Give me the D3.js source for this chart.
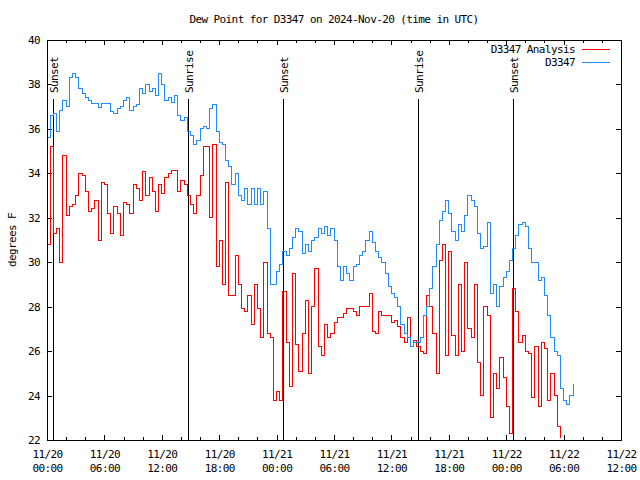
<!DOCTYPE html>
<html>
<head>
<meta charset="utf-8">
<script src="https://cdn.jsdelivr.net/npm/d3@7"></script>
<style>
  html, body { margin: 0; padding: 0; background: #fff; }
  svg { display: block; }
  text { font-family: "DejaVu Sans Mono", "Liberation Mono", monospace; font-size: 11px; letter-spacing: -0.6px; fill: #000; }
</style>
</head>
<body>
<svg id="chart" width="640" height="480"></svg>
<script>
// ---------------- DATA ----------------
const titleText = "Dew Point for D3347 on 2024-Nov-20 (time in UTC)";
const yLabel = "degrees F";
const seriesNames = ["D3347 Analysis", "D3347"];
const seriesColors = ["#ff0000", "#1e8cff"];
const startTime = "2024-11-20T00:00:00Z";
const endTime = "2024-11-22T12:00:00Z";
const stepMinutes = 20;
const yTicks = [22, 24, 26, 28, 30, 32, 34, 36, 38, 40];
const xTickDays = ["11/20","11/20","11/20","11/20","11/21","11/21","11/21","11/21","11/22","11/22","11/22"];
const xTickTimes = ["00:00","06:00","12:00","18:00","00:00","06:00","12:00","18:00","00:00","06:00","12:00"];
const sunTimes = ["2024-11-20T00:40:00Z","2024-11-20T14:46:00Z","2024-11-21T00:42:00Z","2024-11-21T14:49:00Z","2024-11-22T00:44:00Z"];
const sunLabels = ["Sunset","Sunrise","Sunset","Sunrise","Sunset"];

// D3347 Analysis (red), one value every 20 minutes from 11/20 00:00 UTC
const analysisValues = [
 30.8,35.2,31.3,31.5,30.0,34.8,32.1,32.5,32.6,33.0,
 34.0,33.9,33.2,32.3,32.4,32.8,31.0,33.6,33.5,32.2,
 31.3,32.5,32.2,31.2,32.7,32.6,32.2,33.5,33.3,32.8,
 34.1,33.0,33.8,33.2,32.3,33.5,33.1,33.8,34.0,34.15,
 34.15,33.2,33.7,33.5,33.0,32.6,32.2,33.0,33.9,35.2,
 35.2,32.0,35.3,29.8,31.0,29.0,33.6,28.5,28.5,30.3,
 29.0,27.9,27.8,28.5,27.2,29.0,27.9,26.6,30.0,26.8,
 26.6,23.8,24.2,23.8,28.7,26.4,24.4,29.5,26.3,25.1,
 26.8,28.3,25.0,28.0,29.7,26.2,25.8,27.2,26.6,26.8,
 27.3,27.5,27.5,27.7,27.9,27.9,27.8,27.6,28.0,28.0,
 28.0,28.6,26.9,26.8,27.8,27.6,27.6,27.6,27.3,27.4,
 27.1,26.6,26.4,27.5,26.2,26.5,26.2,26.0,25.9,28.5,
 28.0,26.8,25.0,30.1,30.8,25.8,30.5,26.7,25.8,29.0,
 26.0,30.0,27.0,26.6,29.0,25.5,24.0,28.0,27.6,23.0,
 25.0,24.3,25.7,24.8,23.5,22.3,28.8,27.8,26.4,26.7,
 26.0,25.9,23.9,26.2,23.5,26.4,26.1,23.8,25.0,24.0,
 22.6,22.1
];

// D3347 observed (blue), one value every 20 minutes from 11/20 00:00 UTC
const observedValues = [
 35.6,36.6,36.7,35.9,36.85,37.3,37.0,38.3,38.5,38.3,
 37.8,37.6,37.4,37.3,37.15,37.15,36.95,37.15,37.15,37.15,
 36.8,36.7,36.9,37.0,37.3,37.4,36.85,37.0,37.1,37.8,
 37.6,38.0,37.7,37.8,37.5,38.5,38.0,37.3,37.4,37.2,
 37.5,36.6,36.4,36.5,35.9,35.7,35.3,35.5,36.0,36.1,
 36.0,36.9,37.1,35.9,35.4,35.3,34.6,34.3,33.5,34.0,
 33.0,32.8,33.3,32.6,33.3,32.6,33.3,32.6,33.2,31.5,
 29.0,29.0,29.6,29.9,30.5,30.3,30.6,31.1,31.5,31.4,
 30.4,30.8,30.5,31.0,31.1,31.5,31.3,31.6,31.2,31.5,
 31.0,29.8,29.2,29.8,29.5,29.2,29.8,29.9,30.3,30.5,
 31.0,31.4,30.9,30.5,30.2,30.0,29.5,28.9,28.6,28.4,
 28.0,27.2,26.8,26.6,26.2,26.4,26.4,26.6,27.6,28.0,
 28.8,29.8,30.8,31.9,32.3,32.8,32.2,31.4,31.0,31.7,
 31.4,32.1,33.0,32.8,32.5,31.3,30.6,30.7,31.8,28.6,
 29.0,28.0,28.9,29.3,29.6,30.1,30.6,31.2,31.7,31.8,
 31.6,30.6,30.0,30.0,29.2,29.3,28.5,27.6,26.6,26.0,
 25.8,24.3,23.8,23.6,24.0,24.5
];

// ---------------- CHART ----------------
const svg = d3.select("#chart");
const pL = 47, pR = 621, pT = 40, pB = 440;
const t0 = new Date(startTime), t1 = new Date(endTime);

const x = d3.scaleUtc().domain([t0, t1]).range([pL, pR]);
const y = d3.scaleLinear().domain([22, 40]).range([pB, pT]);

const toPoints = vals => vals.map((v, i) => ({ t: d3.utcMinute.offset(t0, i * stepMinutes), v }));
const series = [toPoints(analysisValues), toPoints(observedValues)];

// Title
svg.append("text").attr("x", 334).attr("y", 23).attr("text-anchor", "middle").text(titleText);
// Y label
svg.append("text").attr("transform", "translate(12,240) rotate(-90)")
  .attr("text-anchor", "middle").attr("dy", "0.35em").text(yLabel);

// Axes (ticks inward, gnuplot style)
const majorX = d3.utcHour.every(6), minorX = d3.utcHour.every(2);
function styleAxis(g) {
  g.select(".domain").remove();
  g.selectAll("line").attr("stroke", "#000").attr("shape-rendering", "crispEdges");
  g.selectAll("text").attr("font-family", null).attr("font-size", null);
  g.attr("font-family", null).attr("font-size", null);
}
svg.append("g").attr("transform", `translate(0,${pB})`)
  .call(d3.axisBottom(x).ticks(minorX).tickSize(-3).tickFormat("")).call(styleAxis);
svg.append("g").attr("transform", `translate(0,${pT})`)
  .call(d3.axisTop(x).ticks(minorX).tickSize(-3).tickFormat("")).call(styleAxis);
svg.append("g").attr("transform", `translate(0,${pT})`)
  .call(d3.axisTop(x).ticks(majorX).tickSize(-5).tickFormat("")).call(styleAxis);
const xb = svg.append("g").attr("transform", `translate(0,${pB})`)
  .call(d3.axisBottom(x).ticks(majorX).tickSize(-5).tickPadding(0)).call(styleAxis);
xb.selectAll(".tick text").each(function(d, i) {
  const t = d3.select(this);
  t.text(null).attr("y", 0).attr("dy", null);
  t.append("tspan").attr("x", 0).attr("y", 18).text(xTickDays[i]);
  t.append("tspan").attr("x", 0).attr("y", 32).text(xTickTimes[i]);
});
svg.append("g").attr("transform", `translate(${pL},0)`)
  .call(d3.axisLeft(y).tickValues(yTicks).tickSize(-5).tickPadding(7).tickFormat(d3.format("d")))
  .call(styleAxis);
svg.append("g").attr("transform", `translate(${pR},0)`)
  .call(d3.axisRight(y).tickValues(yTicks).tickSize(-5).tickFormat("")).call(styleAxis);

// Sun lines
const sun = svg.append("g");
sunTimes.forEach((s, i) => {
  const xp = Math.round(x(new Date(s))) + 0.5;
  sun.append("line").attr("x1", xp).attr("x2", xp).attr("y1", 99).attr("y2", pB)
    .attr("stroke", "#000").attr("stroke-width", 1).attr("shape-rendering", "crispEdges");
  sun.append("text").attr("transform", `translate(${xp},93) rotate(-90)`)
    .attr("dy", "0.38em").text(sunLabels[i]);
});

// Series lines
const line = d3.line().x(d => x(d.t)).y(d => y(d.v)).curve(d3.curveStepAfter);
series.forEach((s, i) => {
  svg.append("path").datum(s).attr("d", line).attr("fill", "none")
    .attr("stroke", seriesColors[i]).attr("stroke-width", 1)
    .attr("shape-rendering", "crispEdges");
});

// Border
svg.append("rect").attr("x", pL).attr("y", pT).attr("width", pR - pL).attr("height", pB - pT)
  .attr("fill", "none").attr("stroke", "#000").attr("shape-rendering", "crispEdges");

// Legend
const legY = [49, 62];
seriesNames.forEach((n, i) => {
  svg.append("text").attr("x", 575).attr("y", legY[i]).attr("dy", "0.35em")
    .attr("text-anchor", "end").text(n);
  svg.append("line").attr("x1", 582).attr("x2", 610).attr("y1", legY[i] + 0.5).attr("y2", legY[i] + 0.5)
    .attr("stroke", seriesColors[i]).attr("stroke-width", 1).attr("shape-rendering", "crispEdges");
});
</script>
</body>
</html>
